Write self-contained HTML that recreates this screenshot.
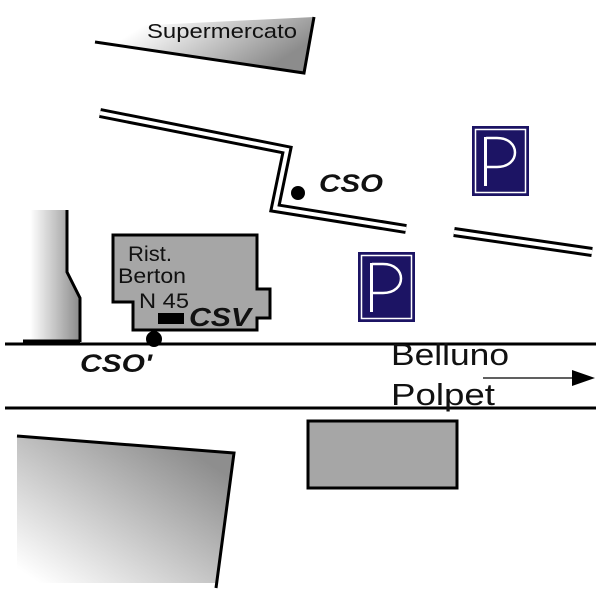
<!DOCTYPE html>
<html><head><meta charset="utf-8"><style>html,body{margin:0;padding:0;background:#fff}svg{display:block}</style></head>
<body>
<svg width="600" height="600" viewBox="0 0 600 600" xmlns="http://www.w3.org/2000/svg" font-family="Liberation Sans, sans-serif">
<defs>
<linearGradient id="g1" x1="0" y1="0" x2="1" y2="0.4"><stop offset="0.25" stop-color="#fff"/><stop offset="1" stop-color="#8c8c8c"/></linearGradient>
<linearGradient id="g2" x1="0" y1="0" x2="1" y2="0"><stop offset="0" stop-color="#fff"/><stop offset="1" stop-color="#8a8a8a"/></linearGradient>
<linearGradient id="g3" x1="0" y1="1" x2="1" y2="0"><stop offset="0.05" stop-color="#fff"/><stop offset="0.85" stop-color="#8e8e8e"/></linearGradient>
</defs>
<polygon points="92,28 314,17 304,73 95,42" fill="url(#g1)"/>
<polyline points="95,42 304,73 314,17" fill="none" stroke="#000" stroke-width="3"/>
<text x="147" y="38" font-size="20" fill="#111" textLength="150" lengthAdjust="spacingAndGlyphs">Supermercato</text>
<polyline points="100,113 287,150 275,208 406,229" fill="none" stroke="#000" stroke-width="10" stroke-linejoin="miter"/>
<polyline points="100,113 287,150 275,208 406,229" fill="none" stroke="#fff" stroke-width="4" stroke-linejoin="miter"/>
<line x1="454" y1="232" x2="592" y2="252" stroke="#000" stroke-width="10"/>
<line x1="454" y1="232" x2="592" y2="252" stroke="#fff" stroke-width="4"/>
<circle cx="298" cy="193" r="7" fill="#000"/>
<text x="319" y="192" font-size="25" font-weight="bold" font-style="italic" fill="#111" textLength="64" lengthAdjust="spacingAndGlyphs">CSO</text>
<g>
<rect x="472" y="126" width="57" height="70" fill="#1c1464"/>
<rect x="475.5" y="129.5" width="50" height="63" fill="none" stroke="#fff" stroke-width="1.5"/>
<rect x="484" y="137" width="3" height="49" fill="#fff"/>
<path d="M486,138 L497,138 C521,138 521,167 497,167 L486,167" fill="none" stroke="#fff" stroke-width="2.5"/>
</g>
<g>
<rect x="358" y="252" width="57" height="70" fill="#1c1464"/>
<rect x="361.5" y="255.5" width="50" height="63" fill="none" stroke="#fff" stroke-width="1.5"/>
<rect x="370" y="263" width="3" height="49" fill="#fff"/>
<path d="M372,264 L383,264 C407,264 407,293 383,293 L372,293" fill="none" stroke="#fff" stroke-width="2.5"/>
</g>
<polygon points="30,210 67,210 67,272 80,298 80,342 30,342" fill="url(#g2)"/>
<polyline points="67,210 67,272 80,298 80,342" fill="none" stroke="#000" stroke-width="3"/>
<line x1="23" y1="341" x2="80" y2="341" stroke="#000" stroke-width="3"/>
<polygon points="113,235 257,235 257,289 270,289 270,318 257,318 257,330 133,330 133,302 113,302" fill="#a6a6a6" stroke="#000" stroke-width="3"/>
<text x="128" y="261" font-size="21" fill="#111" textLength="44" lengthAdjust="spacingAndGlyphs">Rist.</text>
<text x="118" y="283" font-size="21" fill="#111" textLength="68" lengthAdjust="spacingAndGlyphs">Berton</text>
<text x="139" y="308" font-size="21" fill="#111" textLength="50" lengthAdjust="spacingAndGlyphs">N 45</text>
<rect x="158" y="313" width="26" height="11" fill="#000"/>
<text x="189" y="326" font-size="26" font-weight="bold" font-style="italic" fill="#111" textLength="62" lengthAdjust="spacingAndGlyphs">CSV</text>
<line x1="5" y1="344" x2="596" y2="344" stroke="#000" stroke-width="3"/>
<line x1="5" y1="408" x2="596" y2="408" stroke="#000" stroke-width="3"/>
<circle cx="154" cy="339" r="8" fill="#000"/>
<text x="80" y="372" font-size="25" font-weight="bold" font-style="italic" fill="#111" textLength="72" lengthAdjust="spacingAndGlyphs">CSO'</text>
<text x="391" y="365" font-size="31" fill="#111" textLength="118" lengthAdjust="spacingAndGlyphs">Belluno</text>
<text x="391" y="405" font-size="31" fill="#111" textLength="104" lengthAdjust="spacingAndGlyphs">Polpet</text>
<line x1="483" y1="378" x2="575" y2="378" stroke="#000" stroke-width="1.2"/>
<polygon points="572,370 595,378 572,386" fill="#000"/>
<polygon points="17,436 234,453 216,583 17,583" fill="url(#g3)"/>
<polyline points="17,436 234,453 216,588" fill="none" stroke="#000" stroke-width="3"/>
<rect x="308" y="421" width="149" height="67" fill="#a6a6a6" stroke="#000" stroke-width="3"/>
</svg>
</body></html>
